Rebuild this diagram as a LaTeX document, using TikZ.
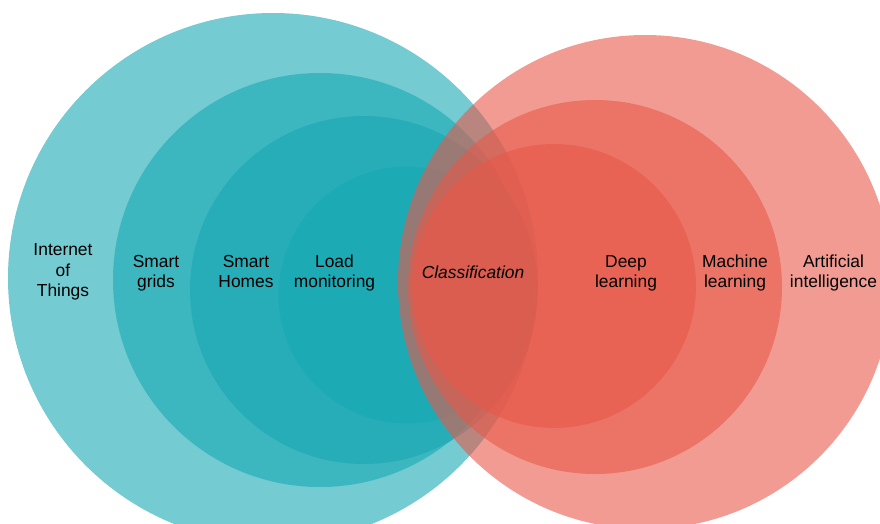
\documentclass[tikz,border=0pt]{standalone}
\usepackage{fontspec}
\setmainfont{Liberation Sans}
\usepackage{tikz}
\usetikzlibrary{positioning}
\definecolor{tealbase}{HTML}{17A8B3}
\definecolor{redbase}{HTML}{E8594A}
\tikzset{
  tealdisc/.style={
    fill=tealbase, fill opacity=0.6
  },
  reddisc/.style={
    fill=redbase, fill opacity=0.6
  },
  ringtext/.style={
    align=center, inner sep=0pt, text=black,
    font=\fontsize{17.4}{20.3}\selectfont
  }
}

\begin{document}
\begin{tikzpicture}[
  x=1pt, y=-1pt
]
\useasboundingbox (0,0) rectangle (880,523);
\fill[tealdisc] (273,278) circle[radius=265pt];
\fill[tealdisc] (320,280) circle[radius=207pt];
\fill[tealdisc] (364,290) circle[radius=174pt];
\fill[tealdisc] (407,295) circle[radius=128.5pt];
\fill[reddisc] (645,282) circle[radius=247pt];
\fill[reddisc] (595,287) circle[radius=187pt];
\fill[reddisc] (554,286) circle[radius=142pt];
\node[ringtext] (iot) at (63,272) {Internet\\of\\Things};
\node[ringtext] (grids) at (156,273) {Smart\\grids};
\node[ringtext] (homes) at (246,271.2) {Smart\\Homes};
\node[ringtext] (load) at (334.5,273) {Load\\monitoring};
\node[ringtext, font=\fontsize{17.4}{20.3}\selectfont\itshape] (classif) at (473,272) {Classification};
\node[ringtext] (deep) at (626,273) {Deep\\learning};
\node[ringtext] (machine) at (735,273) {Machine\\learning};
\node[ringtext] (ai) at (833.5,273) {Artificial\\intelligence};
\end{tikzpicture}
\end{document}
